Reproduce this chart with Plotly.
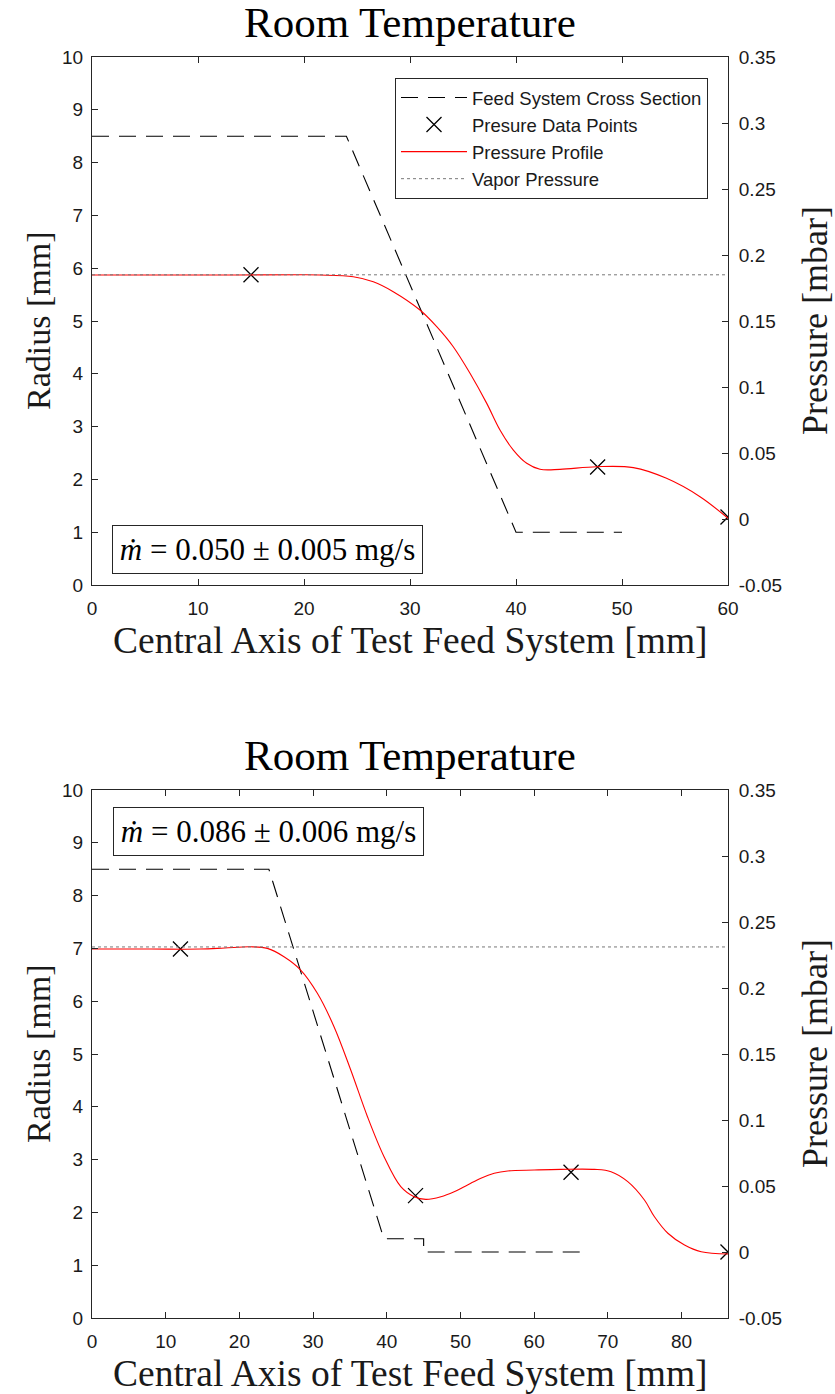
import plotly.graph_objects as go
from plotly.subplots import make_subplots

# ---------------- data ----------------
# Top panel
feed1_x = [0, 24, 40, 50]
feed1_r = [8.5, 8.5, 1.0, 1.0]
pts1_x = [15, 47.7, 60]
pts1_p = [0.185, 0.0394, 0.0015]
prof1_x = [0, 10, 20, 21.5, 24.65, 26.54, 28.42, 30.94, 32.52, 34.08, 35.66, 37.24,
           38.49, 39.75, 41.01, 42.26, 44.15, 47.6, 51.07, 54.2, 57.36, 60]
prof1_p = [0.1848, 0.1848, 0.1850, 0.1848, 0.1835, 0.1797, 0.1722, 0.1583, 0.1457, 0.1305,
           0.1104, 0.0876, 0.0674, 0.0522, 0.0422, 0.0377, 0.0376, 0.0396, 0.0389, 0.0308,
           0.0169, 0.0005]
vap1_x = [0, 60]
vap1_p = [0.185, 0.185]
xmax1 = 60
label1 = "<i>ṁ</i> = 0.050 ± 0.005 mg/s"

# Bottom panel
feed2_x = [0, 24, 39.6, 45, 45, 67]
feed2_r = [8.5, 8.5, 1.5, 1.5, 1.25, 1.25]
pts2_x = [12, 43.9, 65, 86.3]
pts2_p = [0.2295, 0.0427, 0.0604, 0.0]
prof2_x = [0, 8, 14.73, 18, 21.52, 23.79, 26.05, 28.32, 30.58, 32.84, 35.11, 37.38, 39.63,
           41.9, 43.71, 45.3, 47.34, 49.14, 50.96, 52.77, 54.58, 56.4, 60.01, 63.63, 68.17,
           70.43, 72.7, 74.96, 76.32, 78.14, 80.4, 82.66, 86.3]
prof2_p = [0.2295, 0.2295, 0.2295, 0.2303, 0.2312, 0.2300, 0.2237, 0.2136, 0.1960, 0.1707,
           0.1379, 0.1025, 0.0722, 0.0495, 0.0419, 0.0399, 0.0419, 0.0457, 0.0508, 0.0559,
           0.0596, 0.0614, 0.0621, 0.0626, 0.0626, 0.0608, 0.0533, 0.0394, 0.0267, 0.0142,
           0.0053, 0.0002, -0.0015]
vap2_x = [0, 86.3]
vap2_p = [0.2311, 0.2311]
xmax2 = 86.3
label2 = "<i>ṁ</i> = 0.086 ± 0.006 mg/s"

title_text = "Room Temperature"
xlabel = "Central Axis of Test Feed System [mm]"
ylabel_left = "Radius [mm]"
ylabel_right = "Pressure [mbar]"
names = ["Feed System Cross Section", "Presure Data Points", "Pressure Profile", "Vapor Pressure"]

left_ticks = list(range(0, 11))
right_tickvals = [-0.05, 0, 0.05, 0.1, 0.15, 0.2, 0.25, 0.3, 0.35]
right_ticktext = ["-0.05", "0", "0.05", "0.1", "0.15", "0.2", "0.25", "0.3", "0.35"]

# ---------------- figure ----------------
W, H = 835, 1394
L, R = 92, 728
T1, B1 = 57, 585
T2, B2 = 790, 1318
ML, MR, MT, MB = L, W - R, T1, H - B2
PH = B2 - T1

def py(pix):
    return (B2 - pix) / PH

def px(pix):
    return (pix - L) / (R - L)

fig = make_subplots(rows=2, cols=1, specs=[[{"secondary_y": True}], [{"secondary_y": True}]])

AX = "#262626"
TICKFONT = dict(family="Liberation Sans, Arial, sans-serif", size=19, color="#1a1a1a")
SERIF = "Liberation Serif, Times New Roman, serif"
DASH = "17px,10px"

panels = [
    (1, feed1_x, feed1_r, pts1_x, pts1_p, prof1_x, prof1_p, vap1_x, vap1_p, True),
    (2, feed2_x, feed2_r, pts2_x, pts2_p, prof2_x, prof2_p, vap2_x, vap2_p, False),
]
for row, fx, fr, qx, qp, cx, cp, vx, vp, show in panels:
    fig.add_trace(go.Scatter(x=fx, y=fr, mode="lines", name=names[0], showlegend=show,
                             line=dict(color="black", width=1.1, dash=DASH)),
                  row=row, col=1, secondary_y=False)
    fig.add_trace(go.Scatter(x=qx, y=qp, mode="markers", name=names[1], showlegend=show,
                             marker=dict(symbol="x-thin", size=15, color="black",
                                         line=dict(color="black", width=1.3)),
                             cliponaxis=True),
                  row=row, col=1, secondary_y=True)
    fig.add_trace(go.Scatter(x=cx, y=cp, mode="lines", name=names[2], showlegend=show,
                             line=dict(color="red", width=1.1, shape="spline", smoothing=1.0)),
                  row=row, col=1, secondary_y=True)
    fig.add_trace(go.Scatter(x=vx, y=vp, mode="lines", name=names[3], showlegend=show,
                             line=dict(color="rgb(120,120,120)", width=1, dash="dot")),
                  row=row, col=1, secondary_y=True)

common_x = dict(showgrid=False, zeroline=False, showline=True, linecolor=AX, linewidth=1,
                mirror="ticks", ticks="inside", ticklen=6, tickcolor=AX, tickwidth=1,
                tickfont=TICKFONT, ticklabelstandoff=6)
common_y = dict(showgrid=False, zeroline=False, showline=True, linecolor=AX, linewidth=1,
                ticks="inside", ticklen=6, tickcolor=AX, tickwidth=1, tickfont=TICKFONT)

fig.update_layout(
    xaxis=dict(**common_x, range=[0, xmax1], tickvals=list(range(0, 61, 10)), domain=[0, 1],
               anchor="y"),
    xaxis2=dict(**common_x, range=[0, xmax2], tickvals=list(range(0, 81, 10)), domain=[0, 1],
                anchor="y3"),
    yaxis=dict(**common_y, range=[0, 10], tickvals=left_ticks, domain=[py(B1), py(T1)],
               ticklabelstandoff=4),
    yaxis2=dict(**common_y, range=[-0.05, 0.35], tickvals=right_tickvals, ticktext=right_ticktext,
                side="right", overlaying="y", anchor="x", ticklabelstandoff=6),
    yaxis3=dict(**common_y, range=[0, 10], tickvals=left_ticks, domain=[py(B2), py(T2)],
                ticklabelstandoff=4),
    yaxis4=dict(**common_y, range=[-0.05, 0.35], tickvals=right_tickvals, ticktext=right_ticktext,
                side="right", overlaying="y3", anchor="x2", ticklabelstandoff=6),
)

ann = []

def add_panel_text(top, bot):
    ann.append(dict(text=title_text, xref="paper", yref="paper", x=px((L + R) / 2),
                    y=py(top - 35), xanchor="center", yanchor="middle", showarrow=False,
                    font=dict(family=SERIF, size=43, color="black")))
    ann.append(dict(text=xlabel, xref="paper", yref="paper", x=px((L + R) / 2),
                    y=py(bot + 55), xanchor="center", yanchor="middle", showarrow=False,
                    font=dict(family=SERIF, size=37.5, color="#1a1a1a")))
    ann.append(dict(text=ylabel_left, xref="paper", yref="paper", x=px(38),
                    y=py((top + bot) / 2), xanchor="center", yanchor="middle", showarrow=False,
                    textangle=-90, font=dict(family=SERIF, size=34, color="#1a1a1a")))
    ann.append(dict(text=ylabel_right, xref="paper", yref="paper", x=px(815),
                    y=py((top + bot) / 2), xanchor="center", yanchor="middle", showarrow=False,
                    textangle=-90, font=dict(family=SERIF, size=36, color="#1a1a1a")))

add_panel_text(T1, B1)
add_panel_text(T2, B2)

ann.append(dict(text=label1, xref="x domain", yref="y domain", x=px(112), y=(B1 - 574) / (B1 - T1),
                xanchor="left", yanchor="bottom", showarrow=False, width=303, height=41,
                borderpad=3, bordercolor=AX, borderwidth=1, bgcolor="white",
                font=dict(family=SERIF, size=31, color="black")))
ann.append(dict(text=label2, xref="x2 domain", yref="y3 domain", x=px(112.7),
                y=(B2 - 806.7) / (B2 - T2),
                xanchor="left", yanchor="top", showarrow=False, width=303, height=41,
                borderpad=3, bordercolor=AX, borderwidth=1, bgcolor="white",
                font=dict(family=SERIF, size=31, color="black")))

fig.update_layout(
    annotations=ann,
    width=W, height=H,
    margin=dict(l=ML, r=MR, t=MT, b=MB),
    paper_bgcolor="white", plot_bgcolor="white",
    showlegend=True,
    legend=dict(x=px(708), y=py(78), xanchor="right", yanchor="top",
                bgcolor="white", bordercolor=AX, borderwidth=1,
                font=dict(family="Liberation Sans, Arial, sans-serif", size=18.5, color="#1a1a1a"),
                itemwidth=66, tracegroupgap=0),
)

fig.write_html("out.html")
